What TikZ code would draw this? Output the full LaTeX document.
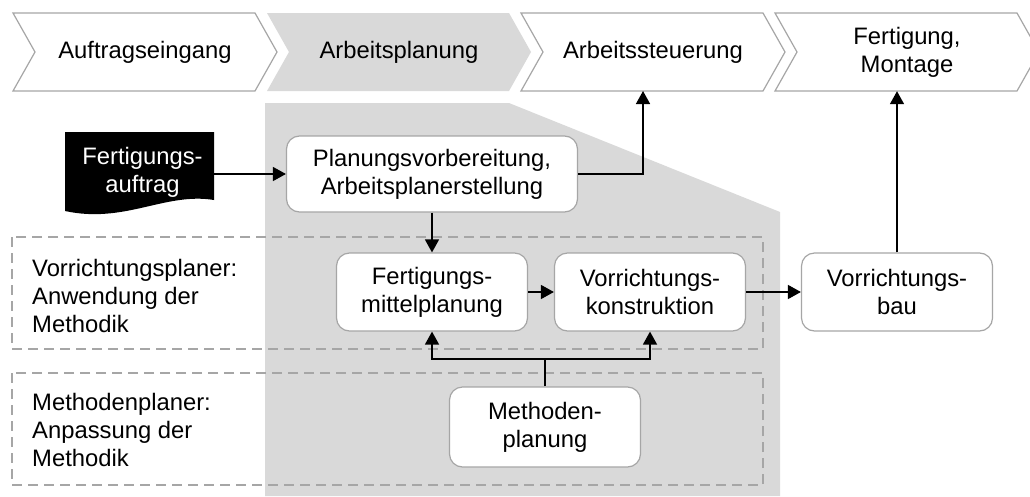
\documentclass[tikz,border=0pt]{standalone}
\usepackage{fontspec}
\setmainfont{Liberation Sans}
\usetikzlibrary{arrows.meta}
\definecolor{panel}{RGB}{217,217,217}
\definecolor{edge}{RGB}{166,166,166}
\begin{document}
\begin{tikzpicture}[x=1pt,y=-1pt,
  txt/.style={font=\fontsize{23.8}{28}\selectfont, align=center, inner sep=0pt},
  chev/.style={draw=edge, line width=1.2pt, fill=white, line join=miter},
  proc/.style={txt, draw=edge, line width=1.2pt, fill=white, rounded corners=13pt,
    minimum width=191pt, minimum height=78pt},
  lane/.style={draw=edge, line width=1.2pt, dash pattern=on 10pt off 6pt},
  arr/.style={line width=1.5pt, -{Triangle[length=13pt,width=14pt]}},
  lbl/.style={txt, align=left, anchor=west}]
\clip (0,0) rectangle (1030,496);
\fill[white] (0,0) rectangle (1030,496);

% shaded area of the planning phase
\fill[panel] (265,103) -- (509,103) -- (780,212) -- (780,496) -- (265,496) -- cycle;

% process chain
\draw[chev] (13,13) -- (255,13) -- (277,52) -- (255,91) -- (13,91) -- (35,52) -- cycle;
\fill[panel] (267,13) -- (509,13) -- (531,52) -- (509,91) -- (267,91) -- (289,52) -- cycle;
\draw[chev] (521,13) -- (763,13) -- (785,52) -- (763,91) -- (521,91) -- (543,52) -- cycle;
\draw[chev] (775,13) -- (1017,13) -- (1039,52) -- (1017,91) -- (775,91) -- (797,52) -- cycle;
\node[txt, minimum height=78pt] (c1) at (145,52) {Auftragseingang};
\node[txt, minimum height=78pt] (c2) at (399,52) {Arbeitsplanung};
\node[txt, minimum height=78pt] (c3) at (653,52) {Arbeitssteuerung};
\node[txt, minimum height=78pt] (c4) at (907,52) {Fertigung,\\Montage};

% role lanes
\draw[lane] (12,237) rectangle (763,349);
\draw[lane] (12,373) rectangle (763,485);
\node[lbl] (l1) at (32,296) {Vorrichtungsplaner:\\Anwendung der\\Methodik};
\node[lbl] (l2) at (32,430) {Methodenplaner:\\Anpassung der\\Methodik};

% order document
\fill[black] (65,132) -- (214,132) -- (214,200) .. controls (165,192) and (125,224) .. (65,211) -- cycle;
\node[txt, text=white, minimum width=143pt, minimum height=50pt] (doc) at (142.5,172) {Fertigungs-\\auftrag};

% activities
\node[proc, minimum width=291pt, minimum height=76pt] (plan) at (432,174) {Planungsvorbereitung,\\Arbeitsplanerstellung};
\node[proc] (fm) at (432,292) {Fertigungs-\\mittelplanung};
\node[proc] (vk) at (650,292) {Vorrichtungs-\\konstruktion};
\node[proc] (vb) at (897,292) {Vorrichtungs-\\bau};
\node[proc, minimum height=80pt] (meth) at (545,427) {Methoden-\\planung};

% flows
\coordinate (c3in) at (643,91);
\coordinate (fork) at (545,359);
\draw[arr] (doc.east |- plan.west) -- (plan.west);
\draw[arr] (plan.east) -| (c3in);
\draw[arr] (plan.south) -- (fm.north);
\draw[arr] (fm.east) -- (vk.west);
\draw[arr] (vk.east) -- (vb.west);
\draw[arr] (vb.north) -- (vb.north |- c4.south);
\draw[line width=1.5pt] (meth.north) -- (fork);
\draw[arr] (fork) -| (fm.south);
\draw[arr] (fork) -| (vk.south);
\end{tikzpicture}
\end{document}
